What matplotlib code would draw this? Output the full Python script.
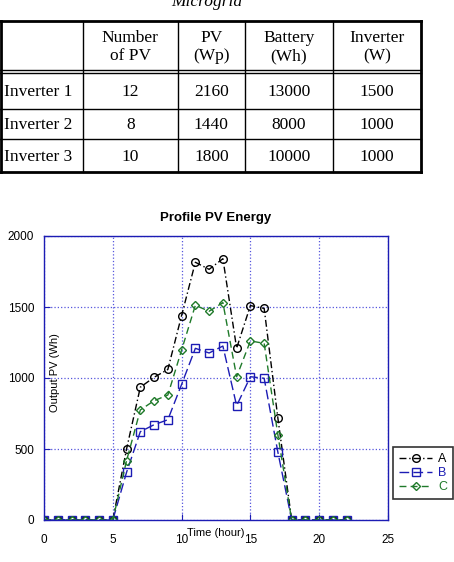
import matplotlib.pyplot as plt

# table data
col_headers = ["Number\nof PV", "PV\n(Wp)", "Battery\n(Wh)", "Inverter\n(W)"]
row_names = ["Inverter 1", "Inverter 2", "Inverter 3"]
n_pv = [12, 8, 10]
pv_wp = [2160, 1440, 1800]
battery_wh = [13000, 8000, 10000]
inverter_w = [1500, 1000, 1000]

# chart data
hours = list(range(23))
energy_a = [0, 0, 0, 0, 0, 0, 500, 935, 1005, 1060, 1440, 1815, 1765, 1840,
            1210, 1510, 1490, 715, 0, 0, 0, 0, 0]
energy_b = [0, 0, 0, 0, 0, 0, 336, 622, 671, 706, 955, 1209, 1176, 1225,
            805, 1009, 998, 476, 0, 0, 0, 0, 0]
energy_c = [0, 0, 0, 0, 0, 0, 418, 775, 840, 880, 1197, 1512, 1470, 1531,
            1009, 1261, 1244, 598, 0, 0, 0, 0, 0]

W, H = 454, 562
fig = plt.figure(figsize=(W / 100, H / 100), dpi=100)

# --- table drawn on an overlay in pixel coordinates ---
tab = fig.add_axes([0, 0, 1, 1])
tab.set_xlim(0, W)
tab.set_ylim(H, 0)
tab.axis("off")

serif = "Liberation Serif"
tab.text(207, 6, "Microgrid", family=serif, style="italic", fontsize=12.5,
         ha="center", va="baseline")

col_x = [0.8, 82.7, 177.7, 245, 332.7, 421]
row_y = [21, 71, 109, 139.3, 172]
for x in col_x:
    lw = 2.0 if x in (col_x[0], col_x[-1]) else 1.0
    tab.plot([x, x], [row_y[0], row_y[-1]], color="black", lw=lw)
tab.plot([0, 421], [row_y[0], row_y[0]], color="black", lw=2.0)
tab.plot([0, 421], [row_y[-1], row_y[-1]], color="black", lw=2.0)
tab.plot([0, 421], [69.5, 69.5], color="black", lw=1.0)
tab.plot([0, 421], [72.5, 72.5], color="black", lw=1.0)
for y in row_y[2:-1]:
    tab.plot([0, 421], [y, y], color="black", lw=1.0)

for j, hdr in enumerate(col_headers):
    cx = (col_x[j + 1] + col_x[j + 2]) / 2
    tab.text(cx, 47, hdr, family=serif, fontsize=12.5, ha="center",
             va="center", linespacing=1.25)

rows = list(zip(n_pv, pv_wp, battery_wh, inverter_w))
for i, name in enumerate(row_names):
    cy = (row_y[i + 1] + row_y[i + 2]) / 2 + 1
    if i == 0:
        cy = (72.5 + row_y[2]) / 2 + 1
    tab.text(4, cy, name, family=serif, fontsize=12.5, ha="left", va="center")
    for j, val in enumerate(rows[i]):
        cx = (col_x[j + 1] + col_x[j + 2]) / 2
        tab.text(cx, cy, str(val), family=serif, fontsize=12.5, ha="center",
                 va="center")

# --- chart ---
sans = "Liberation Sans"
blue = "#1c1cb4"
green = "#1f7a2a"
ax = fig.add_axes([44 / W, (H - 520) / H, 344 / W, 284 / H])

ax.plot(hours, energy_a, color="black", linestyle="-.", lw=1.0,
        marker="o", markersize=5.5, markerfacecolor="none",
        markeredgewidth=1.0, label="A", dashes=(5, 2, 1, 2))
ax.plot(hours, energy_b, color=blue, linestyle="--", lw=1.0,
        marker="s", markersize=5.5, markerfacecolor="none",
        markeredgewidth=1.0, label="B", dashes=(7, 3))
ax.plot(hours, energy_c, color=green, linestyle="--", lw=1.0,
        marker="D", markersize=4, markerfacecolor="none",
        markeredgewidth=1.0, label="C", dashes=(5, 3))

ax.set_xlim(0, 25)
ax.set_ylim(0, 2000)
ax.set_xticks([0, 5, 10, 15, 20, 25])
ax.set_yticks([0, 500, 1000, 1500, 2000])
ax.grid(True, color="#5555dd", linestyle=":", linewidth=0.9)
for s in ax.spines.values():
    s.set_color(blue)
    s.set_linewidth(1.0)
ax.tick_params(direction="in", color=blue, length=4, labelsize=8.5,
               labelcolor="black")
ax.tick_params(axis="x", pad=10)
ax.tick_params(axis="y", pad=7)
for lab in ax.get_xticklabels() + ax.get_yticklabels():
    lab.set_family(sans)

ax.set_title("Profile PV Energy", family=sans, fontsize=9.5,
             fontweight="bold", pad=11)
ax.text(0.5, -0.046, "Time (hour)", transform=ax.transAxes, family=sans,
        fontsize=8, ha="center", va="center")
ax.text(0.032, 0.52, "Output PV (Wh)", transform=ax.transAxes, family=sans,
        fontsize=8, ha="center", va="center", rotation=90)

leg = ax.legend(loc="upper left", bbox_to_anchor=(393 / W, 1 - 447 / H),
                bbox_transform=fig.transFigure, prop={"family": sans, "size": 9},
                handlelength=2.6, handletextpad=0.5, borderpad=0.5,
                borderaxespad=0, labelspacing=0.15, fancybox=False,
                framealpha=1)
leg.get_frame().set_edgecolor("#333333")
leg.get_frame().set_linewidth(1.2)
for txt, c in zip(leg.get_texts(), ["black", blue, green]):
    txt.set_color(c)

fig.savefig("out.png", dpi=100)
